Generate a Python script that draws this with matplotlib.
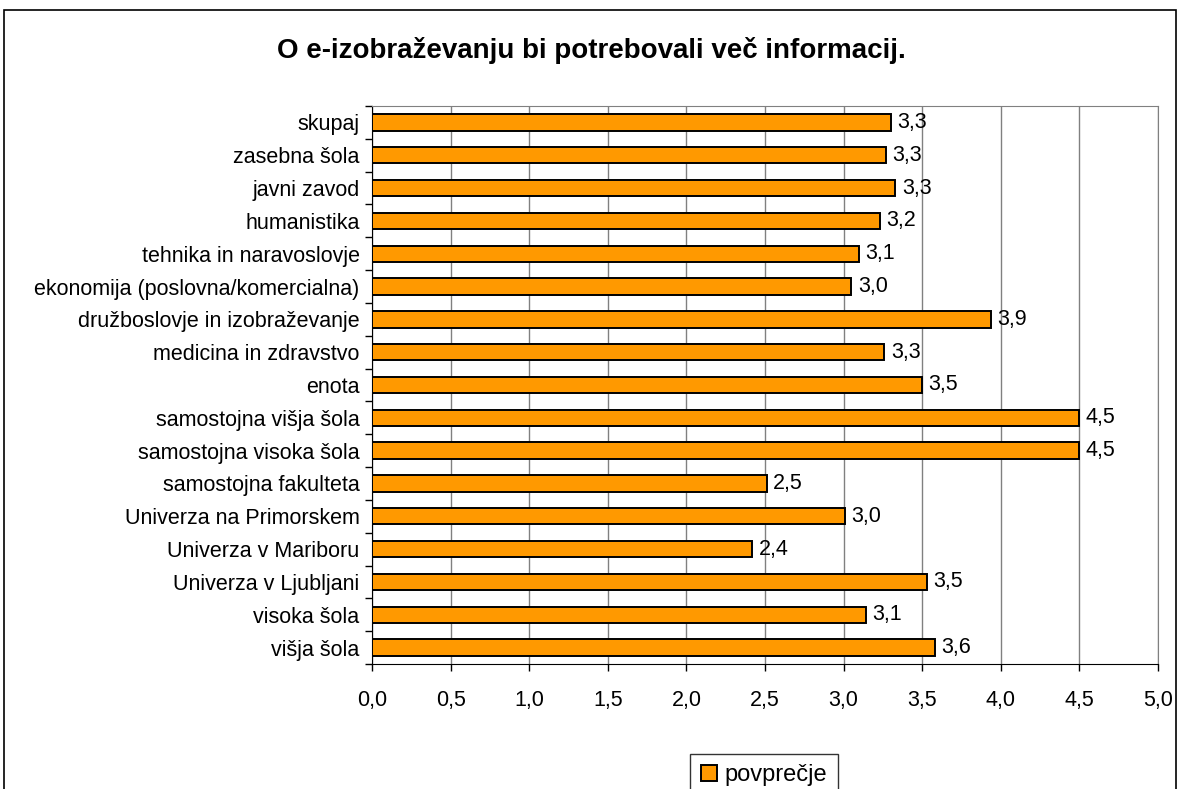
import matplotlib.pyplot as plt
from matplotlib.patches import Rectangle

# categories from top to bottom
categories = ['skupaj', 'zasebna šola', 'javni zavod', 'humanistika',
              'tehnika in naravoslovje', 'ekonomija (poslovna/komercialna)',
              'družboslovje in izobraževanje', 'medicina in zdravstvo', 'enota',
              'samostojna višja šola', 'samostojna visoka šola',
              'samostojna fakulteta', 'Univerza na Primorskem',
              'Univerza v Mariboru', 'Univerza v Ljubljani', 'visoka šola',
              'višja šola']
values = [3.30, 3.27, 3.33, 3.23, 3.10, 3.05, 3.94, 3.26, 3.50, 4.50, 4.50,
          2.51, 3.01, 2.42, 3.53, 3.14, 3.58]
xticks = [0.0, 0.5, 1.0, 1.5, 2.0, 2.5, 3.0, 3.5, 4.0, 4.5, 5.0]

plt.rcParams['font.family'] = ['Liberation Sans', 'DejaVu Sans']

W, H = 1180, 789
fs = 15.5
fig = plt.figure(figsize=(W / 100, H / 100), dpi=100)
ax = fig.add_axes([372 / W, 1 - 664 / H, (1158 - 372) / W, (664 - 106) / H])

pos = list(range(len(categories)))
ax.barh(pos, values, height=0.5, color='#FF9900', edgecolor='black',
        linewidth=1.4, label='povprečje', zorder=3)
for p, v in zip(pos, values):
    ax.text(v + 0.04, p, f'{v:.1f}'.replace('.', ','), va='center',
            ha='left', fontsize=fs, zorder=4)

ax.set_ylim(len(categories) - 0.5, -0.5)
ax.set_yticks(pos)
ax.set_yticklabels(categories, fontsize=fs)
ax.set_yticks([p - 0.5 for p in pos] + [len(pos) - 0.5], minor=True)
ax.tick_params(axis='y', which='major', length=0, pad=9)
ax.tick_params(axis='y', which='minor', length=5, width=1)

ax.set_xlim(0, 5)
ax.set_xticks(xticks)
ax.set_xticklabels([f'{t:.1f}'.replace('.', ',') for t in xticks], fontsize=fs)
ax.tick_params(axis='x', length=5, width=1, pad=14)
ax.grid(axis='x', color='#808080', linewidth=1, zorder=0)

ax.spines['left'].set_color('black')
ax.spines['bottom'].set_color('black')
ax.spines['top'].set_color('#808080')
ax.spines['right'].set_color('#808080')

fig.text(591 / W, 1 - 50 / H, 'O e-izobraževanju bi potrebovali več informacij.',
         ha='center', va='center', fontsize=20, fontweight='bold')

leg = fig.legend(loc='upper center', bbox_to_anchor=(764 / W, 1 - 742 / H),
                 fontsize=17, frameon=True, fancybox=False, handlelength=0.7,
                 handleheight=0.7, borderpad=0.45, handletextpad=0.3)
leg.get_frame().set_edgecolor('black')
leg.get_frame().set_linewidth(1)

# outer chart frame, cut off at the bottom
fig.add_artist(Rectangle((4 / W, -0.1), (1176 - 4) / W, 1.1 - 10 / H,
                         transform=fig.transFigure, fill=False,
                         edgecolor='black', linewidth=1.2))

fig.savefig('out.png', dpi=100)
